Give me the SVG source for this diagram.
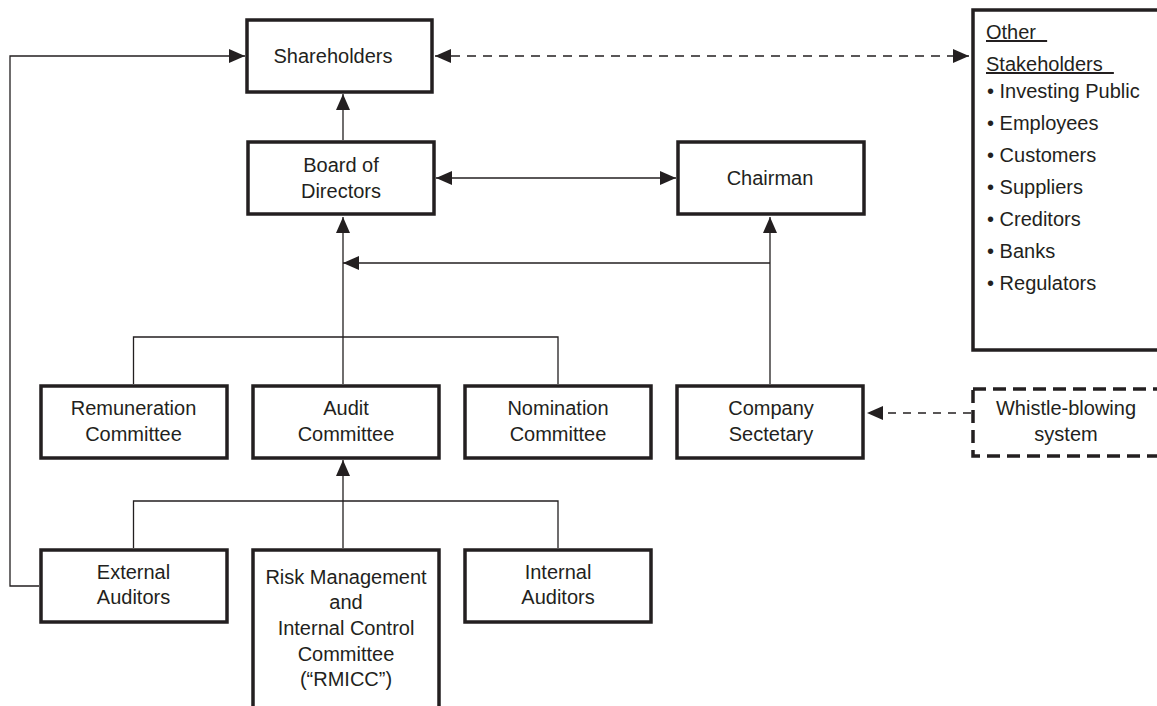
<svg xmlns="http://www.w3.org/2000/svg" width="1157" height="706" viewBox="0 0 1157 706">
<style>
.box{fill:#fff;stroke:#231f20;stroke-width:3.5}
.dbox{fill:#fff;stroke:#231f20;stroke-width:3.5;stroke-dasharray:13,7}
.ln{fill:none;stroke:#231f20;stroke-width:1.3}
.dl{fill:none;stroke:#231f20;stroke-width:1.3;stroke-dasharray:9,7}
text{font-family:"Liberation Sans",Arial,sans-serif;font-size:20px;fill:#231f20}
.c{text-anchor:middle}
</style>
<defs>
<marker id="ah" viewBox="0 0 16 14" refX="16" refY="7" markerWidth="16" markerHeight="14" markerUnits="userSpaceOnUse" orient="auto-start-reverse">
<path d="M0,0 L16,7 L0,14 Z" fill="#231f20"/>
</marker>
</defs>
<rect width="1157" height="706" fill="#fff"/>
<g id="connectors">
<path class="ln" d="M39,586 H10 V56 H245" marker-end="url(#ah)"/>
<path class="ln" d="M343,140 V94" marker-end="url(#ah)"/>
<path class="dl" d="M435,56 H969" marker-start="url(#ah)" marker-end="url(#ah)"/>
<path class="ln" d="M436,178 H676" marker-start="url(#ah)" marker-end="url(#ah)"/>
<path class="ln" d="M343,384 V217" marker-end="url(#ah)"/>
<path class="ln" d="M770,384 V217" marker-end="url(#ah)"/>
<path class="ln" d="M770,263 H343" marker-end="url(#ah)"/>
<path class="ln" d="M133.5,384 V337 H558 V384"/>
<path class="ln" d="M343,548 V460" marker-end="url(#ah)"/>
<path class="ln" d="M133.5,548 V501 H558 V548"/>
<path class="dl" style="stroke-dasharray:8,7" d="M971,413 H867" marker-end="url(#ah)"/>
</g>
<g id="shareholders"><rect class="box" x="247" y="20" width="185" height="72"/><text class="c" x="333" y="63">Shareholders</text></g>
<g id="board"><rect class="box" x="248" y="142" width="186" height="72"/><text class="c" x="341" y="172">Board of</text><text class="c" x="341" y="198">Directors</text></g>
<g id="chairman"><rect class="box" x="678" y="142" width="186" height="72"/><text class="c" x="770" y="185">Chairman</text></g>
<g id="other-stakeholders"><rect class="box" x="973" y="10" width="200" height="340"/>
<text x="986" y="39" xml:space="preserve" text-decoration="underline">Other  </text>
<text x="986" y="71" xml:space="preserve" text-decoration="underline">Stakeholders  </text>
<text x="987" y="98">• Investing Public</text>
<text x="987" y="130">• Employees</text>
<text x="987" y="162">• Customers</text>
<text x="987" y="194">• Suppliers</text>
<text x="987" y="226">• Creditors</text>
<text x="987" y="258">• Banks</text>
<text x="987" y="290">• Regulators</text>
</g>
<g id="remuneration"><rect class="box" x="41" y="386" width="186" height="72"/><text class="c" x="133.5" y="415">Remuneration</text><text class="c" x="133.5" y="441">Committee</text></g>
<g id="audit"><rect class="box" x="253" y="386" width="186" height="72"/><text class="c" x="346" y="415">Audit</text><text class="c" x="346" y="441">Committee</text></g>
<g id="nomination"><rect class="box" x="465" y="386" width="186" height="72"/><text class="c" x="558" y="415">Nomination</text><text class="c" x="558" y="441">Committee</text></g>
<g id="company-secretary"><rect class="box" x="677" y="386" width="186" height="72"/><text class="c" x="771" y="415">Company</text><text class="c" x="771" y="441">Sectetary</text></g>
<g id="whistle-blowing"><rect class="dbox" x="973" y="389" width="200" height="67"/><text class="c" x="1066" y="415">Whistle-blowing</text><text class="c" x="1066" y="441">system</text></g>
<g id="external-auditors"><rect class="box" x="41" y="550" width="186" height="72"/><text class="c" x="133.5" y="579">External</text><text class="c" x="133.5" y="604">Auditors</text></g>
<g id="rmicc"><rect class="box" x="253" y="550" width="186" height="170"/>
<text class="c" x="346" y="584">Risk Management</text>
<text class="c" x="346" y="609">and</text>
<text class="c" x="346" y="635">Internal Control</text>
<text class="c" x="346" y="661">Committee</text>
<text class="c" x="346" y="686">(“RMICC”)</text>
</g>
<g id="internal-auditors"><rect class="box" x="465" y="550" width="186" height="72"/><text class="c" x="558" y="579">Internal</text><text class="c" x="558" y="604">Auditors</text></g>
</svg>
